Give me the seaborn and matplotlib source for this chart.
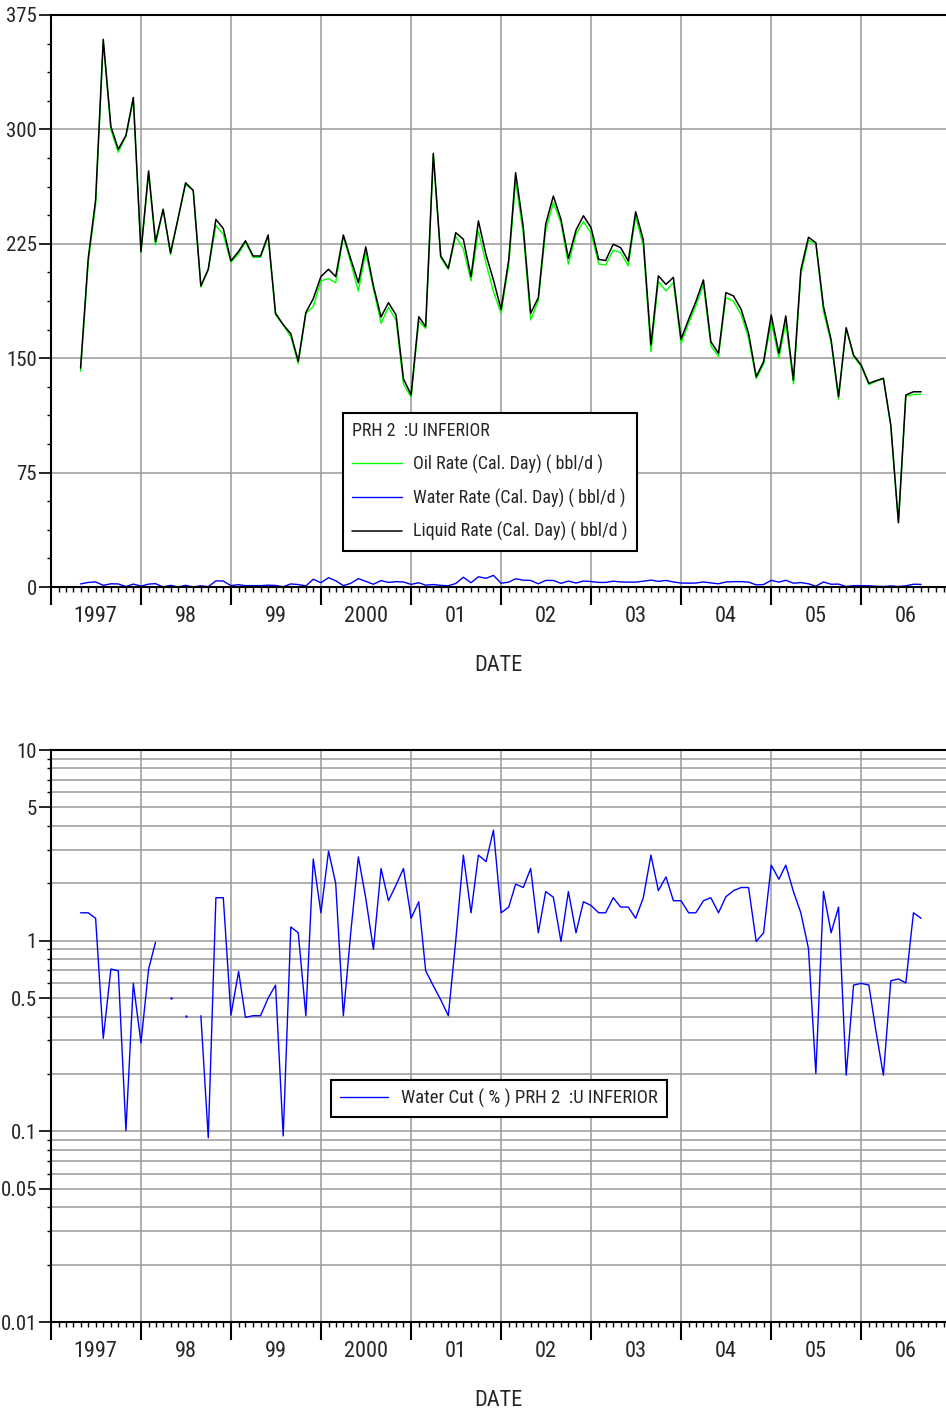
import pandas as pd
import seaborn as sns
import matplotlib.pyplot as plt
import matplotlib.dates as mdates
from matplotlib.ticker import MultipleLocator, FixedLocator, FuncFormatter, LogLocator, NullFormatter
from matplotlib.lines import Line2D

# Monthly data, May 1997 - Sep 2006 (one row per year in the lists below)
dates = pd.date_range('1997-05-01', periods=113, freq='MS')

liquid_rate = [
    143.5, 215.5, 253.8, 359, 301.8, 287, 296, 321,
    219.8, 272.8, 226.4, 247.6, 219, 242, 265, 260, 197.4, 208.3, 241, 235,
    213.8, 220, 227, 217, 217, 230.8, 179.4, 172, 166, 148, 180, 189,
    203.5, 208.3, 203.5, 230.8, 215, 199.5, 223, 197.4, 177, 186.4, 178.3, 136.4,
    126, 177.2, 170.7, 284.3, 217, 209, 232.3, 228, 203.5, 240, 217.7, 201.3,
    182, 214.4, 271.6, 236, 179.4, 189.7, 238, 256.3, 241, 215.5, 234, 243.4,
    235.6, 214.8, 214, 224.7, 222.5, 213.7, 246, 227.5, 158.7, 204, 198.4, 203,
    162.4, 175.5, 187, 201.3, 160.8, 153.2, 193, 190.8, 182, 166.3, 137.9, 147.7,
    178.3, 153.2, 177.7, 135.7, 207.8, 229.3, 225.7, 183.8, 162, 124.8, 170, 152,
    145.5, 133.5, 135.2, 136.8, 106.2, 42.2, 125.9, 128, 128,
]

oil_rate = [
    141.5, 212.5, 250.5, 357.9, 299.7, 285.0, 295.7, 319.1,
    219.2, 270.9, 224.2, 247.6, 217.9, 242, 263.9, 260, 196.6, 208.1, 237, 231.1,
    212.9, 218.5, 226.1, 216.1, 216.1, 229.6, 178.4, 171.8, 164, 146.4, 179.3, 183.9,
    200.7, 202.2, 199.4, 229.9, 212.6, 194, 219.3, 195.6, 172.8, 183.4, 174.8, 133.1,
    124.3, 174.4, 169.5, 282.7, 215.9, 208.2, 230, 221.6, 200.7, 233.3, 212, 193.7,
    179.5, 211.2, 266.2, 231.5, 175.1, 187.6, 233.7, 252, 238.6, 211.6, 231.4, 239.5,
    232, 211.8, 211, 220.9, 219.2, 210.5, 242.8, 223.7, 154.2, 200.3, 194.1, 199.7,
    159.8, 173, 184.4, 198, 158.1, 151.1, 189.7, 187.3, 178.5, 163.1, 136.5, 146.1,
    173.9, 150, 173.3, 133.2, 204.9, 227.2, 225.2, 180.5, 160.2, 122.9, 169.7, 151.1,
    144.6, 132.7, 134.7, 136.5, 105.5, 41.9, 125.1, 126.2, 126.3,
]

water_rate = [
    2.0, 3.0, 3.3, 1.1, 2.1, 2.0, 0.3, 1.9,
    0.6, 1.9, 2.2, 0.0, 1.1, 0.0, 1.1, 0.0, 0.8, 0.2, 4.0, 3.9,
    0.9, 1.5, 0.9, 0.9, 0.9, 1.2, 1.0, 0.2, 2.0, 1.6, 0.7, 5.1,
    2.8, 6.1, 4.1, 0.9, 2.4, 5.5, 3.7, 1.8, 4.2, 3.0, 3.5, 3.3,
    1.7, 2.8, 1.2, 1.6, 1.1, 0.8, 2.3, 6.4, 2.8, 6.7, 5.7, 7.6,
    2.5, 3.2, 5.4, 4.5, 4.3, 2.1, 4.3, 4.3, 2.4, 3.9, 2.6, 3.9,
    3.6, 3.0, 3.0, 3.8, 3.3, 3.2, 3.2, 3.8, 4.5, 3.7, 4.3, 3.3,
    2.6, 2.5, 2.6, 3.3, 2.7, 2.1, 3.3, 3.5, 3.5, 3.2, 1.4, 1.6,
    4.4, 3.2, 4.4, 2.5, 2.9, 2.1, 0.5, 3.3, 1.8, 1.9, 0.3, 0.9,
    0.9, 0.8, 0.5, 0.3, 0.7, 0.3, 0.8, 1.8, 1.7,
]

nan = float('nan')
water_cut = [
    1.40, 1.40, 1.31, 0.307, 0.71, 0.695, 0.101, 0.597,
    0.291, 0.71, 0.98, nan, 0.50, nan, 0.404, nan, 0.404, 0.0925, 1.68, 1.68,
    0.407, 0.69, 0.396, 0.404, 0.404, 0.50, 0.585, 0.0946, 1.18, 1.10, 0.404, 2.68,
    1.40, 2.95, 2.0, 0.404, 1.1, 2.75, 1.67, 0.90, 2.39, 1.62, 1.96, 2.39,
    1.31, 1.60, 0.695, 0.58, 0.49, 0.404, 1.0, 2.81, 1.40, 2.81, 2.6, 3.8,
    1.40, 1.50, 1.98, 1.9, 2.39, 1.10, 1.81, 1.69, 0.99, 1.81, 1.10, 1.60,
    1.53, 1.40, 1.40, 1.68, 1.50, 1.50, 1.31, 1.68, 2.81, 1.83, 2.16, 1.62,
    1.62, 1.40, 1.40, 1.62, 1.68, 1.40, 1.70, 1.83, 1.90, 1.90, 0.99, 1.10,
    2.49, 2.10, 2.49, 1.81, 1.40, 0.91, 0.201, 1.81, 1.10, 1.50, 0.197, 0.585,
    0.597, 0.585, 0.34, 0.197, 0.616, 0.63, 0.60, 1.40, 1.31,
]

year_labels = ['1997', '98', '99', '2000', '01', '02', '03', '04', '05', '06']
rate_ticks = [0, 75, 150, 225, 300, 375]
wc_ticks = [0.01, 0.05, 0.1, 0.5, 1, 5, 10]

df = pd.DataFrame({'date': dates, 'oil': oil_rate, 'water': water_rate,
                   'liquid': liquid_rate, 'wc': water_cut})

sns.set_style('ticks')
plt.rcParams['font.family'] = ['Roboto Condensed', 'Liberation Sans', 'DejaVu Sans']

W, H = 946, 1411
fig = plt.figure(figsize=(W / 100, H / 100), dpi=100)
ax1 = fig.add_axes([51 / W, 1 - 587 / H, 895 / W, 572 / H])
ax2 = fig.add_axes([51 / W, 1 - 1322 / H, 895 / W, 572 / H])

# top: rates
sns.lineplot(data=df, x='date', y='oil', color='#00ff00', lw=1,
             label='Oil Rate (Cal. Day) ( bbl/d )', ax=ax1)
sns.lineplot(data=df, x='date', y='water', color='#0000ff', lw=1,
             label='Water Rate (Cal. Day) ( bbl/d )', ax=ax1)
sns.lineplot(data=df, x='date', y='liquid', color='black', lw=1.1,
             label='Liquid Rate (Cal. Day) ( bbl/d )', ax=ax1)

# bottom: water cut, broken where data is missing
df['seg'] = df['wc'].isna().cumsum()
wc_df = df.dropna(subset=['wc'])
sns.lineplot(data=wc_df, x='date', y='wc', units='seg', estimator=None,
             color='#0000ff', lw=1, legend=False, ax=ax2)
single = wc_df.groupby('seg').filter(lambda g: len(g) == 1)
sns.scatterplot(data=single, x='date', y='wc', color='#0000ff', s=3,
                linewidth=0, legend=False, ax=ax2)


def month_label(x, pos):
    d = mdates.num2date(x)
    if d.month == 7:
        i = d.year - 1997
        if 0 <= i < len(year_labels):
            return year_labels[i]
    return ''


grid_kw = dict(color='#999999', lw=1.1)
for ax in (ax1, ax2):
    ax.set_xlim(pd.Timestamp('1997-01-01'), pd.Timestamp('2006-12-11'))
    ax.xaxis.set_major_locator(mdates.YearLocator())
    ax.xaxis.set_major_formatter(NullFormatter())
    ax.xaxis.set_minor_locator(mdates.MonthLocator())
    ax.xaxis.set_minor_formatter(FuncFormatter(month_label))
    ax.tick_params(axis='x', which='major', length=13, width=1.5, color='black')
    ax.tick_params(axis='x', which='minor', length=3.6, width=1, pad=10,
                   labelsize=16, color='black')
    ax.tick_params(axis='y', which='major', length=8.6, width=1.2, pad=1.5,
                   labelsize=15, color='black')
    ax.tick_params(axis='y', which='minor', length=3, width=1, color='black')
    ax.grid(which='major', axis='x', **grid_kw)
    ax.set_xlabel('DATE', fontsize=16, labelpad=20)
    ax.set_ylabel('')
    for s in ('top', 'left', 'bottom'):
        ax.spines[s].set_color('black')
        ax.spines[s].set_linewidth(1.5)
    ax.spines['right'].set_visible(False)
    ax.set_axisbelow(True)

ax1.set_ylim(0, 375)
ax1.yaxis.set_major_locator(FixedLocator(rate_ticks))
ax1.yaxis.set_minor_locator(MultipleLocator(18.75))
ax1.grid(which='major', axis='y', **grid_kw)

ax2.set_yscale('log')
ax2.set_ylim(0.01, 10)
ax2.yaxis.set_major_locator(FixedLocator(wc_ticks))
ax2.yaxis.set_major_formatter(FuncFormatter(lambda v, p: f'{v:g}'))
ax2.yaxis.set_minor_locator(LogLocator(base=10, subs=range(1, 10)))
ax2.yaxis.set_minor_formatter(NullFormatter())
ax2.grid(which='both', axis='y', **grid_kw)

leg_kw = dict(loc='upper left', bbox_transform=fig.transFigure, frameon=True,
              fancybox=False, edgecolor='black', framealpha=1, borderaxespad=0)
leg1 = ax1.legend(title='PRH 2  :U INFERIOR', title_fontsize=13, alignment='left',
                  bbox_to_anchor=(343 / W, 1 - 413 / H), fontsize=13,
                  handlelength=2.75, handletextpad=0.62, borderpad=0.52,
                  labelspacing=0.8, **leg_kw)
leg1.get_frame().set_linewidth(1.5)

leg2 = ax2.legend(handles=[Line2D([], [], color='#0000ff', lw=1)],
                  labels=['Water Cut ( % ) PRH 2  :U INFERIOR'],
                  bbox_to_anchor=(331 / W, 1 - 1080 / H), fontsize=13.5,
                  handlelength=2.56, handletextpad=0.68, borderpad=0.48, **leg_kw)
leg2.get_frame().set_linewidth(1.5)

fig.savefig('out.png', dpi=100)
